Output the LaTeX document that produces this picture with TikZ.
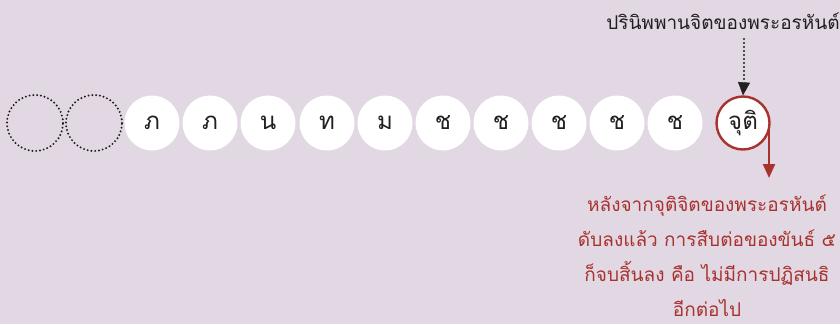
\documentclass[tikz,border=0pt]{standalone}
\usepackage{fontspec}
\newfontfamily\thaifont[Script=Thai]{Loma}
\usetikzlibrary{arrows.meta}
\definecolor{bg}{RGB}{226,216,228}
\definecolor{darkred}{RGB}{168,50,45}
\definecolor{ink}{RGB}{35,31,32}
\tikzset{
  ghost/.style={circle, draw=ink, line width=2.2pt, line cap=round, dash pattern=on 0pt off 3.8pt, minimum size=56pt, inner sep=0pt},
  moment/.style={circle, fill=white, minimum size=55pt, inner sep=0pt, font=\thaifont\fontsize{24}{24}\selectfont, text=ink},
  death/.style={moment, draw=darkred, line width=2.4pt, minimum size=53pt},
  lbl/.style={font=\thaifont\fontsize{19}{35}\selectfont, align=center}
}
\begin{document}
\begin{tikzpicture}[x=1pt,y=-1pt]
\fill[bg] (0,0) rectangle (840,324);
\useasboundingbox (0,0) rectangle (840,324);
\node[ghost] (g1) at (35,123) {};
\node[ghost] (g2) at (94,123) {};
\node[moment] (c1) at (152,123) {ภ};
\node[moment] (c2) at (210,123) {ภ};
\node[moment] (c3) at (268,123) {น};
\node[moment] (c4) at (327,123) {ท};
\node[moment] (c5) at (385,123) {ม};
\node[moment] (c6) at (443,123) {ช};
\node[moment] (c7) at (501,123) {ช};
\node[moment] (c8) at (559,123) {ช};
\node[moment] (c9) at (617,123) {ช};
\node[moment] (c10) at (675,123) {ช};
\node[death] (cu) at (743,123) {จุติ};
\node[lbl, text=ink] (top) at (723,21) {ปรินิพพานจิตของพระอรหันต์};
\coordinate (ts) at (744,39);
\coordinate (tm) at (744,82);
\draw[ink, line width=2.4pt, line cap=round, dash pattern=on 0pt off 4pt, shorten >=1pt] (ts) -- (tm);
\draw[ink, -{Triangle[width=12pt,length=13pt]}] (tm) -- (cu.north);
\coordinate (rs) at (769,130);
\coordinate (re) at (769,178);
\draw[darkred, line width=2.2pt, -{Triangle[width=12pt,length=14pt]}] (rs) -- (re);
\node[lbl, text=darkred, anchor=north] (note) at (707,191) {หลังจากจุติจิตของพระอรหันต์\\ดับลงแล้ว การสืบต่อของขันธ์ ๕\\ก็จบสิ้นลง คือ ไม่มีการปฏิสนธิ\\อีกต่อไป};
\end{tikzpicture}
\end{document}
